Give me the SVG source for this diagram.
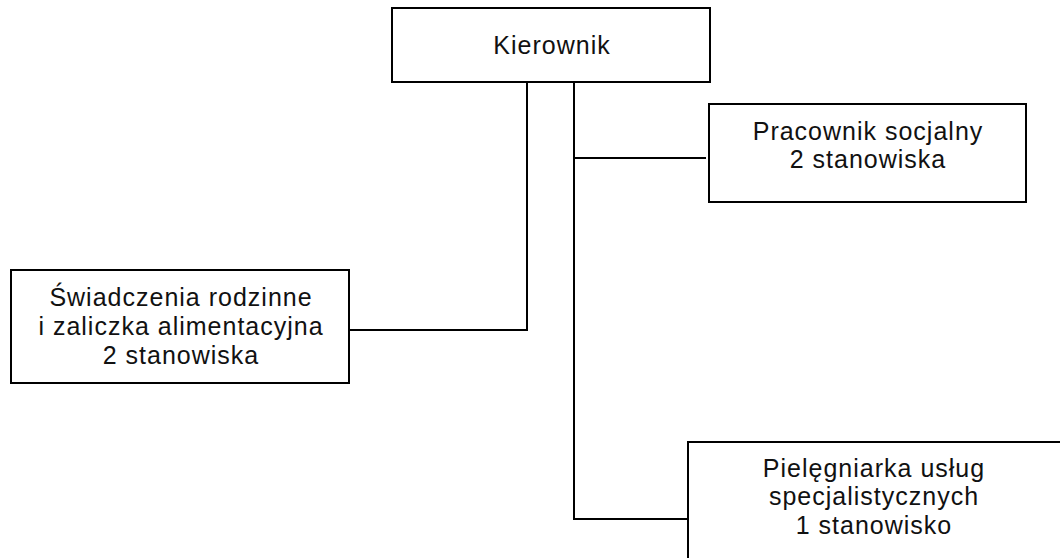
<svg xmlns="http://www.w3.org/2000/svg" width="1060" height="558" viewBox="0 0 1060 558">
<style>
.box{fill:#fff;stroke:#000;stroke-width:2}
.t{font-family:"Liberation Sans",Arial,sans-serif;font-size:25px;letter-spacing:1px;fill:#111;text-anchor:middle}
.c{stroke:#000;stroke-width:2;fill:none}
</style>
<rect width="1060" height="558" fill="#fff"/>
<g id="connectors">
<line class="c" x1="527" y1="82" x2="527" y2="331"/>
<line class="c" x1="349" y1="330" x2="528" y2="330"/>
<line class="c" x1="574" y1="82" x2="574" y2="520"/>
<line class="c" x1="574" y1="158" x2="706" y2="158"/>
<line class="c" x1="574" y1="519" x2="688" y2="519"/>
</g>
<g id="kierownik">
<rect class="box" x="392" y="8" width="318" height="74"/>
<text class="t" x="552" y="54">Kierownik</text>
</g>
<g id="pracownik">
<rect class="box" x="709" y="104" width="317" height="98"/>
<text class="t" x="868" y="140">Pracownik socjalny</text>
<text class="t" x="868" y="168">2 stanowiska</text>
</g>
<g id="swiadczenia">
<rect class="box" x="11" y="270" width="338" height="113"/>
<text class="t" x="181" y="306">Świadczenia rodzinne</text>
<text class="t" x="181" y="335">i zaliczka alimentacyjna</text>
<text class="t" x="181" y="364">2 stanowiska</text>
</g>
<g id="pielegniarka">
<rect class="box" x="688" y="442" width="380" height="130"/>
<text class="t" x="874" y="477">Pielęgniarka usług</text>
<text class="t" x="874" y="505">specjalistycznych</text>
<text class="t" x="874" y="534">1 stanowisko</text>
</g>
</svg>
